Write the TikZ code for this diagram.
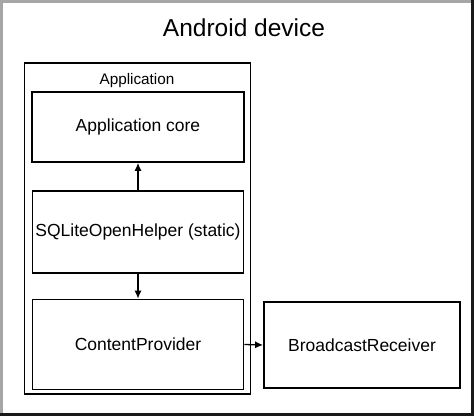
\documentclass[tikz,border=0pt]{standalone}
\usepackage{fontspec}
\setmainfont{Liberation Sans}
\usetikzlibrary{arrows.meta}
\begin{document}
\begin{tikzpicture}[x=1pt,y=-1pt,
  box/.style={draw=black,line width=1.7pt,fill=white,inner sep=0pt,font=\fontsize{17.5}{20}\selectfont},
  conn/.style={line width=1.3pt,-{Latex[length=8pt,width=7pt]}}]
\useasboundingbox (0,0) rectangle (474,416);
\fill[white] (0,0) rectangle (474,416);
% bevelled outer frame
\draw[line width=2.5pt,gray!70] (1.25,416) -- (1.25,1.25) -- (474,1.25);
\draw[line width=3pt,black!90] (0,414.5) -- (472.5,414.5) -- (472.5,0);
\node[font=\fontsize{24.5}{28}\selectfont] (title) at (244,28) {Android device};
% application container
\node[box,minimum width=226pt,minimum height=331pt] (app) at (137.5,228.5) {};
\node[font=\fontsize{15.3}{18}\selectfont,anchor=base] (applabel) at (137,84.5) {Application};
\node[box,minimum width=212pt,minimum height=70pt] (core) at (138,127) {Application core};
\node[box,minimum width=211pt,minimum height=82pt] (sql) at (138,232) {SQLiteOpenHelper (static)};
\node[box,minimum width=211pt,minimum height=90pt] (cp) at (138,344.5) {ContentProvider};
\node[box,minimum width=196pt,minimum height=86pt] (br) at (362,345) {BroadcastReceiver};
\draw[conn] (sql.north) -- (core.south);
\draw[conn] (sql.south) -- (cp.north);
\draw[conn] (cp.east) -- (br.west);
\end{tikzpicture}
\end{document}
